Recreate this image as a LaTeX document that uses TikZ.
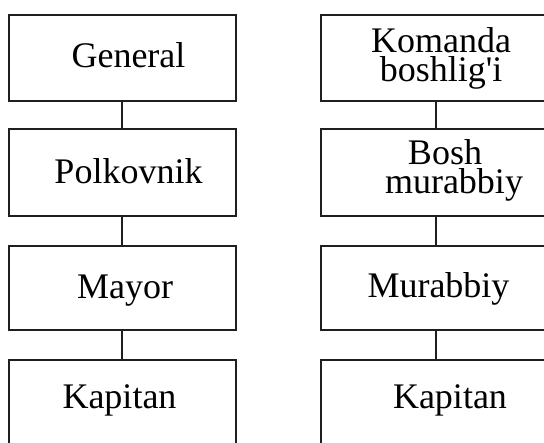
\documentclass[tikz,border=0pt]{standalone}
\usepackage{fontspec}
\setmainfont{Liberation Serif}
\begin{document}
\begin{tikzpicture}[x=1pt,y=-1pt,
  rank/.style={draw=black!88,line width=2pt,fill=white},
  link/.style={draw=black!88,line width=2pt},
  lbl/.style={anchor=base,inner sep=0pt,font=\fontsize{36}{29}\selectfont},
  pair/.style={inner sep=0pt,align=center,font=\fontsize{36}{29}\selectfont}]
\useasboundingbox (0,0) rectangle (544,443);
\clip (0,0) rectangle (544,443);
\fill[white] (0,0) rectangle (544,443);

% left chain (military ranks)
\draw[rank] (8.5,15) rectangle (235.5,101);
\draw[rank] (8.5,129) rectangle (235.5,216);
\draw[rank] (8.5,246) rectangle (235.5,330);
\draw[rank] (8.5,360) rectangle (235.5,460);
\coordinate (l1b) at (121.5,101);  \coordinate (l2t) at (121.5,129);
\coordinate (l2b) at (121.5,216);  \coordinate (l3t) at (121.5,246);
\coordinate (l3b) at (121.5,330);  \coordinate (l4t) at (121.5,360);
\draw[link] (l1b) -- (l2t);
\draw[link] (l2b) -- (l3t);
\draw[link] (l3b) -- (l4t);

\node[lbl] (general) at (128.5,68) {General};
\node[lbl] (polkovnik) at (128.5,184) {Polkovnik};
\node[lbl] (mayor) at (125,299) {Mayor};
\node[lbl] (kapitanL) at (119.5,409) {Kapitan};

% right chain (team ranks)
\draw[rank] (321,15) rectangle (549,101);
\draw[rank] (321,129) rectangle (549,216);
\draw[rank] (321,246) rectangle (549,330);
\draw[rank] (321,360) rectangle (549,460);
\coordinate (r1b) at (435.5,101);  \coordinate (r2t) at (435.5,129);
\coordinate (r2b) at (435.5,216);  \coordinate (r3t) at (435.5,246);
\coordinate (r3b) at (435.5,330);  \coordinate (r4t) at (435.5,360);
\draw[link] (r1b) -- (r2t);
\draw[link] (r2b) -- (r3t);
\draw[link] (r3b) -- (r4t);

\node[pair] (komanda) at (441,58.2) {Komanda\\boshlig\textquotesingle i};
\node[pair] (bosh) at (454,170.1) {Bosh\hspace*{18pt}\\murabbiy};
\node[lbl] (murabbiy) at (438.5,298) {Murabbiy};
\node[lbl] (kapitanR) at (450,409) {Kapitan};
\end{tikzpicture}
\end{document}
